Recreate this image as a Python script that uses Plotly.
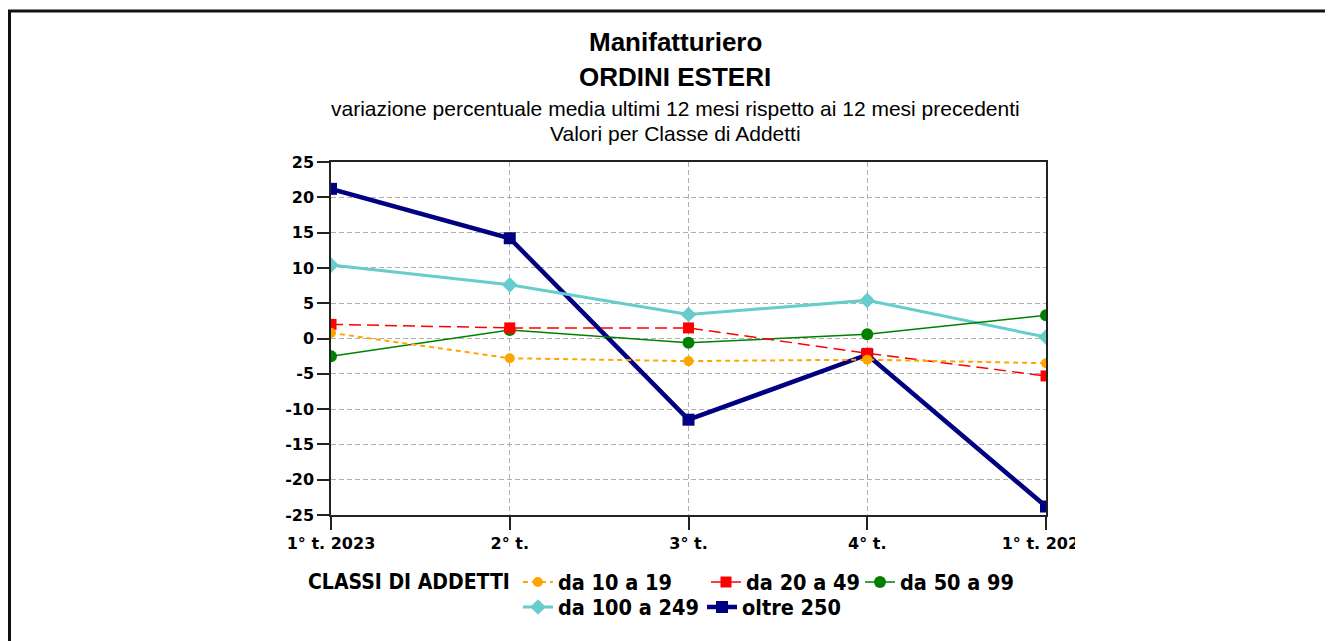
import plotly.graph_objects as go

categories = ["1° t. 2023", "2° t.", "3° t.", "4° t.", "1° t. 2024"]
da_10_19 = [0.8, -2.8, -3.2, -3.0, -3.5]
da_20_49 = [2.0, 1.5, 1.5, -2.1, -5.3]
da_50_99 = [-2.5, 1.2, -0.6, 0.6, 3.3]
da_100_249 = [10.4, 7.6, 3.4, 5.4, 0.2]
oltre_250 = [21.2, 14.2, -11.5, -2.3, -23.8]
y_ticks = [-25, -20, -15, -10, -5, 0, 5, 10, 15, 20, 25]
y_tick_text = ["-25", "-20", "-15", "-10", "-5", "0", "5", "10", "15", "20", "25"]

OFF = 8  # page body margin
W, H = 1333 - OFF, 641 - OFF
# plot area in reference (screen) pixels
RL, RR, RT, RB = 331, 1046, 162, 515

def px(x):
    return (x - RL) / (RR - RL)

def py(y):
    return (RB - y) / (RB - RT)

xs = list(range(len(categories)))

series = [
    ("da 10 a 19", da_10_19, "#FFA500", 2, "5px,4px", "circle", 10, "legend"),
    ("da 20 a 49", da_20_49, "#FF0000", 1.5, "12px,6px", "square", 11, "legend2"),
    ("da 50 a 99", da_50_99, "#008000", 1.5, "solid", "circle", 12, "legend3"),
    ("da 100 a 249", da_100_249, "#66CCCC", 3, "solid", "diamond", 12, "legend4"),
    ("oltre 250", oltre_250, "#000080", 4.5, "solid", "square", 12, "legend5"),
]

fig = go.Figure()
# drawn in reverse so the small classes sit on top, as in the reference
for name, vals, color, w, dash, sym, size, leg in reversed(series):
    fig.add_trace(go.Scatter(
        x=xs, y=vals, name=name, mode="lines+markers",
        line=dict(color=color, width=w, dash=dash),
        marker=dict(symbol=sym, size=size, color=color),
        legend=leg,
    ))

axis_font = dict(family="DejaVu Sans", size=16, color="black", weight="bold")
grid = dict(showgrid=True, gridcolor="#b0b0b0", griddash="5px,3px", gridwidth=1,
            showline=True, linecolor="#222", linewidth=1.5, mirror=True,
            ticks="outside", tickcolor="#222", tickwidth=1.5,
            tickfont=axis_font, zeroline=False)
fig.update_xaxes(range=[0, len(categories) - 1], tickvals=xs, ticktext=categories,
                 ticklen=13, **grid)
fig.update_yaxes(range=[-25, 25], tickvals=y_ticks, ticktext=y_tick_text,
                 ticklen=12, **grid)

title_x = px(675)
ann = [
    ("<b>Manifatturiero</b>", 42, 26),
    ("<b>ORDINI ESTERI</b>", 77, 26),
    ("variazione percentuale media ultimi 12 mesi rispetto ai 12 mesi precedenti", 109, 21),
    ("Valori per Classe di Addetti", 134, 21),
]
for text, ycen, size in ann:
    fig.add_annotation(
        text=text, xref="paper", yref="paper", x=title_x, y=py(ycen),
        xanchor="center", yanchor="middle", showarrow=False,
        font=dict(family="Liberation Sans, Arial", size=size, color="black"),
    )

# outer frame (extends past right and bottom of the viewport)
fig.add_shape(type="rect", xref="paper", yref="paper",
              x0=px(9.5), x1=px(1345), y0=py(11), y1=py(660),
              line=dict(color="#111", width=3), layer="below")
# clip of last tick label as in reference
fig.add_shape(type="rect", xref="paper", yref="paper",
              x0=px(1075), x1=px(1110), y0=py(565), y1=py(530),
              fillcolor="white", line=dict(width=0), layer="above")

title_font = dict(family="DejaVu Sans Condensed, DejaVu Sans", size=21, color="black", weight="bold")
leg_font = dict(family="DejaVu Sans Condensed, DejaVu Sans", size=21.5, color="black", weight="bold")

def legend_at(xpix, ycen, title=None):
    d = dict(orientation="h", xref="paper", yref="paper",
             x=px(xpix), xanchor="left", y=py(ycen), yanchor="middle",
             font=leg_font, itemwidth=30, bgcolor="rgba(0,0,0,0)")
    if title:
        d["title"] = dict(text=title, side="left", font=title_font)
    return d

fig.update_layout(
    width=W, height=H,
    margin=dict(l=RL - OFF, r=(W + OFF) - RR, t=RT - OFF, b=(H + OFF) - RB),
    paper_bgcolor="white", plot_bgcolor="white",
    showlegend=True,
    legend=legend_at(306, 582, "CLASSI DI ADDETTI"),
    legend2=legend_at(706, 582),
    legend3=legend_at(860, 582),
    legend4=legend_at(518, 607),
    legend5=legend_at(702, 607),
)

fig.write_html("out.html")
